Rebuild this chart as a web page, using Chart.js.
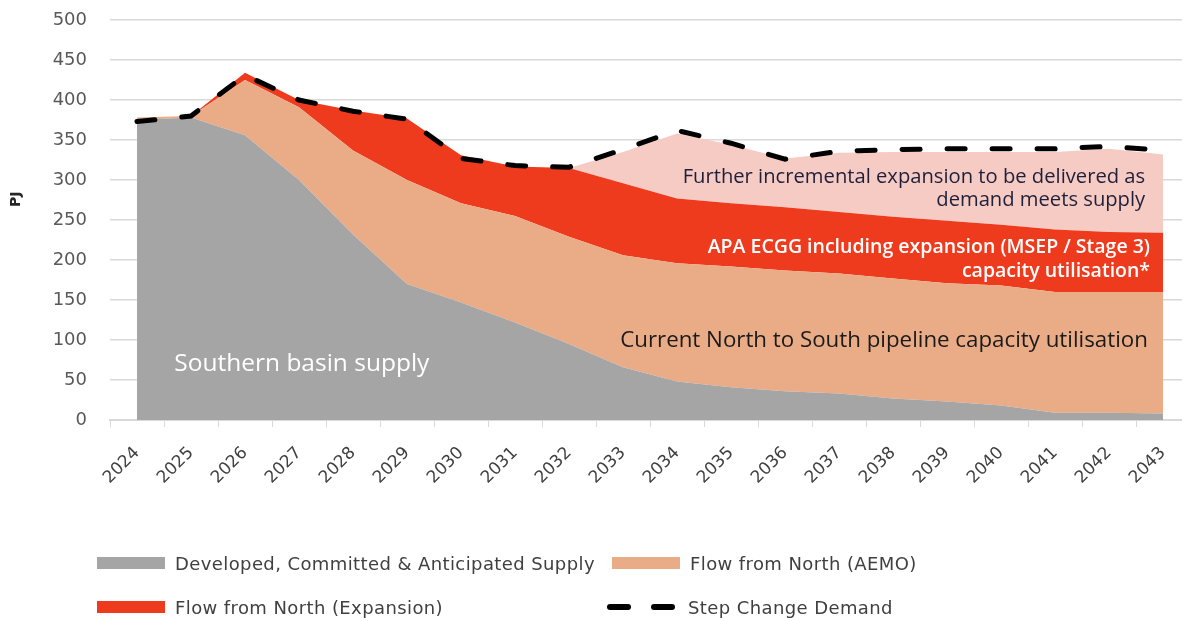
<!DOCTYPE html>
<html>
<head>
<meta charset="utf-8">
<script src="https://cdn.jsdelivr.net/npm/chart.js@4.4.1/dist/chart.umd.min.js"></script>
<style>
    html, body { margin: 0; padding: 0; background: #ffffff; overflow: hidden; }
    #page { position: relative; width: 1182px; height: 621px; overflow: hidden; }
    #wrap { position: absolute; left: 0; top: 0; width: 1200px; height: 500px; }
    #legend { position: absolute; left: 0; top: 0; width: 1182px; height: 621px; font-family: 'DejaVu Sans', sans-serif; font-size: 18px; letter-spacing: 0.4px; color: #404040; }
    .item { position: absolute; display: flex; align-items: center; height: 24px; white-space: nowrap; }
    .swatch { width: 68px; height: 12px; margin-right: 10px; }
    .dash { width: 68px; height: 6px; margin-right: 13px; display: flex; justify-content: space-between; }
    .dash span { display: block; width: 24px; height: 6px; border-radius: 3px; background: #000; }
</style>
</head>
<body>
<div id="page">
    <div id="wrap"><canvas id="supplyChart"></canvas></div>
    <div id="legend"></div>
</div>
<script>
// Southern gas supply vs Step Change demand (PJ)

const years = ['2024', '2025', '2026', '2027', '2028', '2029', '2030', '2031', '2032', '2033',
               '2034', '2035', '2036', '2037', '2038', '2039', '2040', '2041', '2042', '2043'];

const developedSupply = [375, 378, 356, 300, 232, 170, 147, 122, 95, 66, 48, 41, 36, 33, 27, 23, 18, 9, 9, 8];
const flowNorthAemo = [3, 2, 69, 91, 105, 130, 124, 133, 134, 140, 148, 151, 151, 150, 150, 148, 150, 151, 151, 152];
const flowNorthExpansion = [0, 0, 9, 9, 50, 77, 60, 62, 86, 90, 81, 79, 79, 77, 77, 78, 76, 78, 75, 74];
const furtherExpansion = [0, 0, 0, 0, 0, 0, 0, 0, 0, 39, 81, 73, 61, 74, 81, 86, 91, 97, 104, 98];
const stepChangeDemand = [373, 380, 431, 400, 386, 376, 327, 318, 316, 338, 362, 346, 326, 336, 338, 339, 339, 339, 342, 337];

const yTicks = [0, 50, 100, 150, 200, 250, 300, 350, 400, 450, 500];

const colors = {
    grey: '#a5a5a5',
    aemo: '#eaac86',
    expansion: '#ee3a1d',
    further: '#f6cbc4',
    demand: '#000000',
    grid: '#d9d9d9',
    tick: '#595959'
};

// text written inside the areas, placed by category index / PJ value
const notes = [
    { lines: ['Southern basin supply'], x: 0.69, y: [70], align: 'left', color: '#ffffff', font: '500 24.5px "Open Sans"' },
    { lines: ['Current North to South pipeline capacity utilisation'], x: 18.72, y: [99], align: 'right', color: '#1a1a1a', font: '500 22.3px "Open Sans"' },
    { lines: ['APA ECGG including expansion (MSEP / Stage 3)', 'capacity utilisation*'], x: 18.76, y: [216, 186], align: 'right', color: '#ffffff', font: '600 19.5px "Open Sans"' },
    { lines: ['Further incremental expansion to be delivered as', 'demand meets supply'], x: 18.67, y: [304, 275], align: 'right', color: '#1f1f3a', font: '20.2px "Open Sans"' }
];

const notesPlugin = {
    id: 'notes',
    afterDatasetsDraw(chart) {
        const { ctx, scales: { x, y } } = chart;
        ctx.save();
        ctx.textBaseline = 'middle';
        notes.forEach(n => {
            ctx.font = n.font;
            ctx.fillStyle = n.color;
            ctx.textAlign = n.align;
            n.lines.forEach((line, i) => {
                ctx.fillText(line, x.getPixelForValue(n.x), y.getPixelForValue(n.y[i]));
            });
        });
        // axis title
        ctx.translate(16, y.getPixelForValue(276));
        ctx.rotate(-Math.PI / 2);
        ctx.font = 'bold 14px "DejaVu Sans"';
        ctx.fillStyle = '#262626';
        ctx.textAlign = 'center';
        ctx.fillText('PJ', 0, 0);
        ctx.restore();
    }
};

// html legend built from the datasets
const legendSlots = [
    { left: 97, top: 551 },
    { left: 612, top: 551 },
    { left: 97, top: 595 },
    { left: 607, top: 595 }
];

const htmlLegend = {
    id: 'htmlLegend',
    afterUpdate(chart) {
        const box = document.getElementById('legend');
        box.innerHTML = '';
        chart.data.datasets.filter(ds => ds.inLegend).forEach((ds, i) => {
            const item = document.createElement('div');
            item.className = 'item';
            item.style.left = legendSlots[i].left + 'px';
            item.style.top = legendSlots[i].top + 'px';
            const mark = document.createElement('div');
            if (ds.borderDash) {
                mark.className = 'dash';
                mark.innerHTML = '<span></span><span></span>';
            } else {
                mark.className = 'swatch';
                mark.style.background = ds.backgroundColor;
            }
            const label = document.createElement('span');
            label.textContent = ds.label;
            item.appendChild(mark);
            item.appendChild(label);
            box.appendChild(item);
        });
    }
};

function area(label, data, color, fill, inLegend) {
    return {
        label,
        data,
        backgroundColor: color,
        borderColor: color,
        borderWidth: 0,
        pointRadius: 0,
        tension: 0,
        fill,
        stack: 'supply',
        inLegend
    };
}

new Chart(document.getElementById('supplyChart'), {
    type: 'line',
    plugins: [notesPlugin, htmlLegend],
    data: {
        labels: years,
        datasets: [
            area('Developed, Committed & Anticipated Supply', developedSupply, colors.grey, 'origin', true),
            area('Flow from North (AEMO)', flowNorthAemo, colors.aemo, '-1', true),
            area('Flow from North (Expansion)', flowNorthExpansion, colors.expansion, '-1', true),
            area('Further incremental expansion', furtherExpansion, colors.further, '-1', false),
            {
                label: 'Step Change Demand',
                data: stepChangeDemand,
                borderColor: colors.demand,
                backgroundColor: colors.demand,
                borderWidth: 5,
                borderDash: [18, 27],
                borderCapStyle: 'round',
                pointRadius: 0,
                tension: 0,
                fill: false,
                stack: 'demand',
                inLegend: true,
                order: -1
            }
        ]
    },
    options: {
        responsive: true,
        maintainAspectRatio: false,
        animation: false,
        layout: {
            padding: { top: 20, right: 10, left: 0, bottom: 0 }
        },
        plugins: {
            legend: { display: false },
            tooltip: { enabled: false }
        },
        scales: {
            x: {
                offset: true,
                grid: {
                    offset: true,
                    drawOnChartArea: false,
                    drawTicks: true,
                    tickLength: 7,
                    color: colors.grid
                },
                border: { color: colors.grid, width: 2 },
                ticks: {
                    color: '#404040',
                    font: { family: 'DejaVu Sans', size: 17 },
                    minRotation: 45,
                    maxRotation: 45,
                    padding: 16,
                    autoSkip: false
                },
                afterFit(scale) { scale.height = 80; }
            },
            y: {
                stacked: true,
                min: 0,
                max: 500,
                afterBuildTicks(scale) { scale.ticks = yTicks.map(v => ({ value: v })); },
                grid: {
                    color: colors.grid,
                    lineWidth: 1.5,
                    drawTicks: true,
                    tickLength: 23,
                    tickColor: 'rgba(0,0,0,0)'
                },
                border: { display: false },
                ticks: {
                    color: colors.tick,
                    font: { family: 'DejaVu Sans', size: 18 },
                    padding: 0
                },
                afterFit(scale) { scale.width = 110; }
            }
        }
    }
});
</script>
</body>
</html>
